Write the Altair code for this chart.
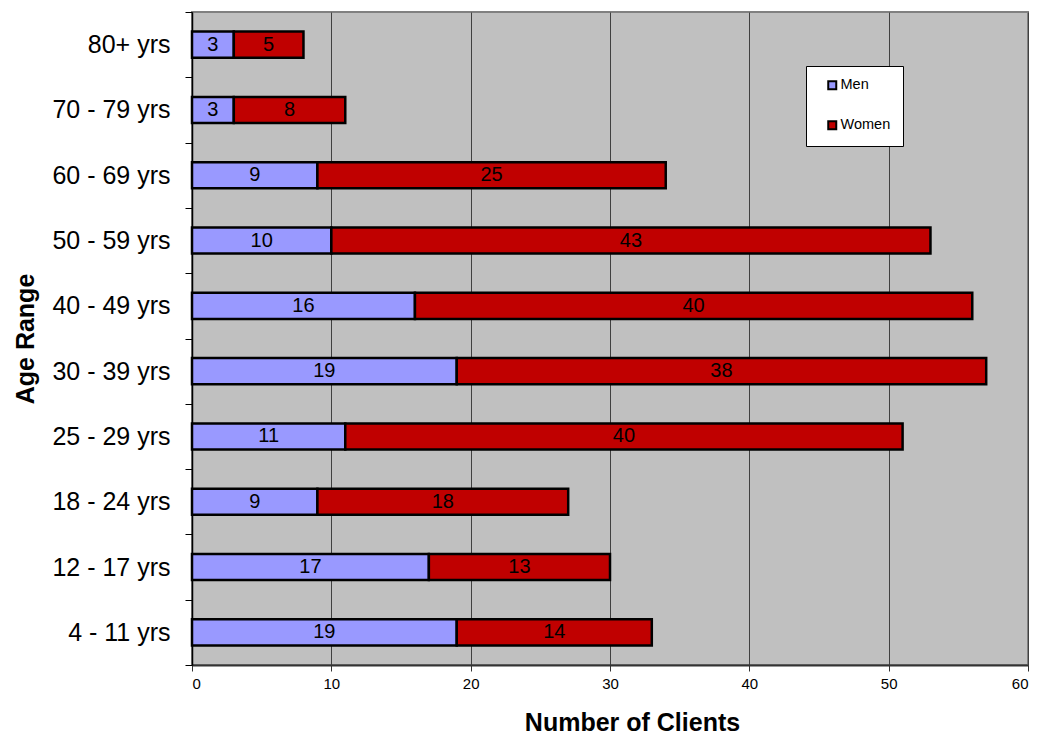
import altair as alt
import pandas as pd

ages = ["80+ yrs", "70 - 79 yrs", "60 - 69 yrs", "50 - 59 yrs", "40 - 49 yrs",
        "30 - 39 yrs", "25 - 29 yrs", "18 - 24 yrs", "12 - 17 yrs", "4 - 11 yrs"]
men = [3, 3, 9, 10, 16, 19, 11, 9, 17, 19]
women = [5, 8, 25, 43, 40, 38, 40, 18, 13, 14]
series = ["Men", "Women"]
colors = ["#9999FF", "#C00000"]
x_ticks = [0, 10, 20, 30, 40, 50, 60]

rows = []
for a, m, w in zip(ages, men, women):
    rows.append({"age": a, "sex": "Men", "n": m, "ord": 0})
    rows.append({"age": a, "sex": "Women", "n": w, "ord": 1})
df = pd.DataFrame(rows)

FONT = "Liberation Sans"

base = alt.Chart(df).transform_stack(
    stack="n", groupby=["age"], as_=["x0", "x1"],
    sort=[alt.SortField("ord", order="ascending")]
).transform_calculate(mid="(datum.x0 + datum.x1) / 2")

yscale = alt.Scale(domain=ages, paddingInner=0, paddingOuter=0)

bars = base.mark_bar(stroke="black", strokeWidth=2.5, height={"band": 0.4}).encode(
    x=alt.X("x0:Q", scale=alt.Scale(domain=[0, 60], nice=False),
            axis=alt.Axis(title="Number of Clients", values=x_ticks, tickSize=6,
                          tickColor="#333333", domainColor="#333333", domainWidth=2,
                          labelFontSize=15, labelFont=FONT, labelPadding=5,
                          labelColor="black", grid=True, gridColor="#404040",
                          gridWidth=1, titleFontSize=25, titleFont=FONT,
                          titleFontWeight="bold", titleColor="black",
                          titlePadding=19, titleX=440)),
    x2="x1:Q",
    y=alt.Y("age:N", sort=ages, scale=yscale,
            axis=alt.Axis(title="Age Range", tickBand="extent", tickSize=7,
                          tickColor="black", domainColor="black", domainWidth=1.5,
                          labelFontSize=25, labelFont=FONT, labelColor="black",
                          labelPadding=15, grid=False, titleFontSize=25,
                          titleFont=FONT, titleFontWeight="bold",
                          titleColor="black", titlePadding=13)),
    color=alt.Color("sex:N", scale=alt.Scale(domain=series, range=colors),
                    legend=alt.Legend(title=None, orient="none", legendX=614,
                                      legendY=54, fillColor="white",
                                      strokeColor="black", padding=12,
                                      symbolType="square", symbolSize=64,
                                      symbolStrokeColor="black",
                                      symbolStrokeWidth=2, symbolOffset=7,
                                      labelOffset=1,
                                      labelExpr="datum.label + '\u00a0\u00a0\u00a0\u00a0\u00a0\u00a0'",
                                      labelFontSize=14.5, labelFont=FONT,
                                      labelColor="black", rowPadding=23)),
)

text = base.mark_text(fontSize=20, font=FONT, color="black").encode(
    x=alt.X("mid:Q"),
    y=alt.Y("age:N", sort=ages, scale=yscale),
    text="n:Q",
)

chart = (bars + text).properties(
    width=836, height=653,
    autosize=alt.AutoSizeParams(type="none"),
    padding={"left": 192, "top": 12, "right": 10, "bottom": 70},
    background="white",
).configure_view(fill="#C0C0C0", stroke="#808080", strokeWidth=2)

chart.save("out.html", embed_options={"renderer": "svg", "actions": False})
